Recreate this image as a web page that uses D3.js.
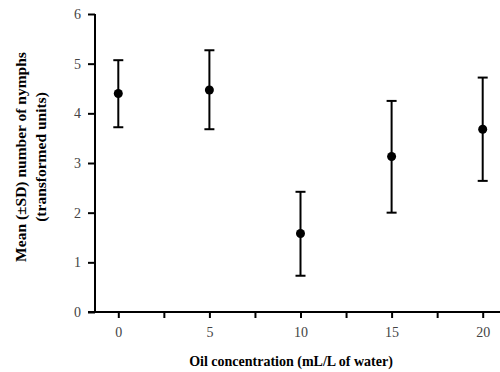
<!DOCTYPE html>
<html><head><meta charset="utf-8">
<script src="https://cdn.jsdelivr.net/npm/d3@7"></script>
<style>html,body{margin:0;padding:0;background:#fff;}svg{display:block;}</style>
</head><body>
<script>
const concentrations = [0, 5, 10, 15, 20];
const means = [4.40, 4.47, 1.58, 3.13, 3.68];
const upper = [5.07, 5.27, 2.42, 4.25, 4.72];
const lower = [3.72, 3.68, 0.73, 2.00, 2.64];
const xTicks = [0, 5, 10, 15, 20];
const xMinorTicks = [2.5, 7.5, 12.5, 17.5];
const yTicks = [0, 1, 2, 3, 4, 5, 6];

const W = 500, H = 372;
const svg = d3.select("body").append("svg").attr("width", W).attr("height", H);

const x = d3.scaleLinear().domain([0, 20]).range([118.3, 482.7]);
const y = d3.scaleLinear().domain([0, 6]).range([312, 14]);
const axisLeft = 95, axisRight = 500;

const serif = "'Liberation Serif','Times New Roman',serif";

// Y axis
const gy = svg.append("g").attr("transform", `translate(${axisLeft},0)`)
  .call(d3.axisLeft(y).tickValues(yTicks).tickSize(7).tickPadding(7).tickFormat(d3.format("d")));
gy.select(".domain").attr("d", `M0,${y(6)}V${y(0)}`).attr("stroke", "#000").attr("stroke-width", 2);
gy.selectAll(".tick line").attr("stroke", "#000").attr("stroke-width", 2);
gy.selectAll(".tick text").attr("font-family", serif).attr("font-size", 14).attr("fill", "#444");

// X axis
const gx = svg.append("g").attr("transform", `translate(0,${y(0)})`)
  .call(d3.axisBottom(x).tickValues(xTicks.concat(xMinorTicks)).tickSize(6).tickPadding(9)
    .tickFormat(d => xTicks.includes(d) ? d3.format("d")(d) : ""));
gx.select(".domain").attr("d", `M${axisLeft - 7},0H${axisRight}`).attr("stroke", "#000").attr("stroke-width", 2);
gx.selectAll(".tick line").attr("stroke", "#000").attr("stroke-width", 2);
gx.selectAll(".tick text").attr("font-family", serif).attr("font-size", 14).attr("fill", "#444");

// Error bars
const data = concentrations.map((c, i) => ({c, m: means[i], lo: lower[i], hi: upper[i]}));
const eb = svg.append("g");
eb.selectAll("line.v").data(data).join("line").attr("class", "v")
  .attr("x1", d => x(d.c)).attr("x2", d => x(d.c))
  .attr("y1", d => y(d.hi)).attr("y2", d => y(d.lo))
  .attr("stroke", "#000").attr("stroke-width", 2);
eb.selectAll("line.t").data(data).join("line").attr("class", "t")
  .attr("x1", d => x(d.c) - 5).attr("x2", d => x(d.c) + 5)
  .attr("y1", d => y(d.hi)).attr("y2", d => y(d.hi))
  .attr("stroke", "#000").attr("stroke-width", 2);
eb.selectAll("line.b").data(data).join("line").attr("class", "b")
  .attr("x1", d => x(d.c) - 5).attr("x2", d => x(d.c) + 5)
  .attr("y1", d => y(d.lo)).attr("y2", d => y(d.lo))
  .attr("stroke", "#000").attr("stroke-width", 2);
eb.selectAll("circle").data(data).join("circle")
  .attr("cx", d => x(d.c)).attr("cy", d => y(d.m)).attr("r", 4.5).attr("fill", "#000");

// Axis titles
svg.append("text").attr("x", 291).attr("y", 366).attr("text-anchor", "middle")
  .attr("font-family", serif).attr("font-weight", "bold").attr("font-size", 14)
  .text("Oil concentration (mL/L of water)");

const yt = svg.append("text").attr("transform", "translate(26,157) rotate(-90)")
  .attr("text-anchor", "middle").attr("font-family", serif).attr("font-weight", "bold").attr("font-size", 15.5);
yt.append("tspan").attr("x", 0).attr("y", 0).text("Mean (\u00B1SD) number of nymphs");
yt.append("tspan").attr("x", 0).attr("y", 20).text("(transformed units)");
</script>
</body></html>
